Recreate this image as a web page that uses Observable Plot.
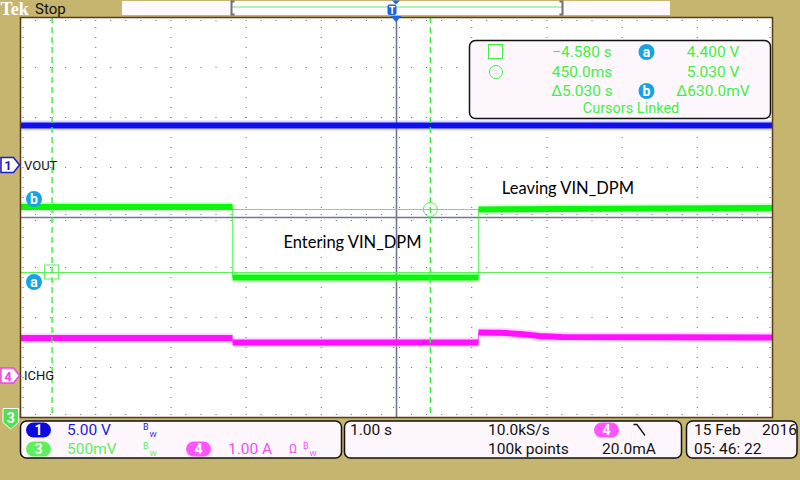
<!DOCTYPE html>
<html><head><meta charset="utf-8">
<script src="https://cdn.jsdelivr.net/npm/d3@7"></script>
<script src="https://cdn.jsdelivr.net/npm/@observablehq/plot@0.6"></script>
<style>
html,body{margin:0;padding:0;background:#c6b56f;width:800px;height:480px;overflow:hidden;}
#wrap{position:relative;width:800px;height:480px;}
#wrap svg{position:absolute;left:0;top:0;}
</style></head><body><div id="wrap"></div>
<script>
// ---------------- data ----------------
// horizontal: 1.00 s/div, trigger at centre
const timeDomain = [-5, 5];
const divDomain = [-4, 4];

// channel settings: units per division, ground position in divisions
const ch1Scale = 5.00, ch1Offset = 1.04;
const ch3Scale = 0.50, ch3Offset = -9.90;
const ch4Scale = 1.00, ch4Offset = -3.17;

// CH1 VOUT (V)
const voutT = [-5, 5];
const voutV = [4.0, 4.0];
// CH3 input voltage (V)
const vinT = [-5, -2.18, -2.18, 1.09, 1.09, 5];
const vinV = [5.055, 5.055, 4.35, 4.35, 5.03, 5.045];
// CH4 ICHG (A)
const ichgT = [-5, -2.18, -2.18, 1.09, 1.09, 1.38, 1.65, 1.9, 2.2, 5];
const ichgA = [0.76, 0.76, 0.67, 0.67, 0.87, 0.865, 0.84, 0.80, 0.78, 0.77];

// cursors (time in s, level in V on CH3)
const cursorT = [-4.58, 0.45];
const cursorV = [4.40, 5.03];

// annotations
const noteText = ["Entering VIN_DPM", "Leaving VIN_DPM"];
const noteT = [-0.585, 2.28];
const noteDiv = [-0.5, 0.58];

// readout texts
const readTime = ["\u22124.580 s", "450.0ms", "\u03945.030 s"];
const readVolt = ["4.400 V", "5.030 V", "\u0394630.0mV"];
const readFoot = "Cursors Linked";
const chanLabels = ["VOUT", "ICHG"];
const ch1Text = "5.00 V", ch3Text = "500mV", ch4Text = "1.00 A";
const timebaseText = "1.00 s", rateText = "10.0kS/s", pointsText = "100k points", trigLevelText = "20.0mA";
const dateText = "15 Feb", yearText = "2016", clockText = "05: 46: 22";

// ---------------- build ----------------
const C1 = "#1010ee", C1L = "#7c7cff";
const C3 = "#0cf50c", C3L = "#7cff7c";
const C4 = "#ff10ff", C4L = "#ff80ff";
const GRID = "#6f7693";

function toRows(ts, vs, scale, offset) {
  let seg = 0;
  return ts.map((t, i) => {
    if (i > 0 && t === ts[i - 1]) seg++;
    return {t, d: vs[i] / scale + offset, seg};
  });
}
const vout = toRows(voutT, voutV, ch1Scale, ch1Offset);
const vin = toRows(vinT, vinV, ch3Scale, ch3Offset);
const ichg = toRows(ichgT, ichgA, ch4Scale, ch4Offset);

const minorT = d3.range(0, 51).map(k => -5 + k * 0.2);
const minorD = d3.range(0, 41).map(k => -4 + k * 0.2);
const gridV = [], gridH = [];
for (let i = -4; i <= 4; i++) if (i !== 0) minorD.slice(1, -1).forEach(d => gridV.push({t: i, d}));
for (let j = -3; j <= 3; j++) if (j !== 0) minorT.slice(1, -1).forEach(t => gridH.push({t, d: j}));
const edgeTop = minorT.slice(1, -1).map(t => ({t, d: 4}));
const edgeBot = minorT.slice(1, -1).map(t => ({t, d: -4}));
const edgeL = minorD.slice(1, -1).map(d => ({t: -5, d}));
const edgeR = minorD.slice(1, -1).map(d => ({t: 5, d}));
const cenH = minorT.slice(1, -1).map(t => ({t, d: 0}));
const cenV = minorD.slice(1, -1).map(d => ({t: 0, d}));

const cursorDiv = cursorV.map(v => v / ch3Scale + ch3Offset);
const notes = noteText.map((s, i) => ({s, t: noteT[i], d: noteDiv[i]}));

function trace(rows, core, light, w) {
  return [
    Plot.line(rows, {x: "t", y: "d", stroke: core, strokeWidth: 1.2, strokeOpacity: 0.6, clip: true}),
    Plot.line(rows, {x: "t", y: "d", z: "seg", stroke: light, strokeWidth: w + 4, strokeOpacity: 0.3, strokeLinecap: "butt", clip: true}),
    Plot.line(rows, {x: "t", y: "d", z: "seg", stroke: core, strokeWidth: w, strokeLinecap: "butt", clip: true})
  ];
}
const dotOpts = (extra) => Object.assign({x: "t", y: "d", r: 0.65, symbol: "square", fill: GRID, stroke: "none"}, extra);

const plot = Plot.plot({
  width: 800, height: 480,
  marginLeft: 20, marginRight: 28, marginTop: 17, marginBottom: 63,
  x: {domain: timeDomain, axis: null},
  y: {domain: divDomain, axis: null},
  style: {background: "transparent", overflow: "visible"},
  marks: [
    Plot.frame({fill: "#ffffff", stroke: "none"}),
    Plot.dot(gridV, dotOpts({})),
    Plot.dot(gridH, dotOpts({})),
    Plot.dot(edgeTop, dotOpts({dy: 3})),
    Plot.dot(edgeBot, dotOpts({dy: -3})),
    Plot.dot(edgeL, dotOpts({dx: 2.5})),
    Plot.dot(edgeR, dotOpts({dx: -2.5})),
    Plot.dot(cenH, dotOpts({dy: -3})),
    Plot.dot(cenH, dotOpts({dy: 3})),
    Plot.dot(cenV, dotOpts({dx: -3})),
    Plot.dot(cenV, dotOpts({dx: 3})),
    Plot.ruleX([0], {stroke: GRID, strokeWidth: 1.6}),
    Plot.ruleY([0], {stroke: GRID, strokeWidth: 1.6}),
    Plot.ruleY(cursorDiv, {stroke: "#5cf05c", strokeWidth: 1}),
    ...trace(vout, C1, C1L, 6),
    ...trace(ichg, C4, C4L, 6),
    ...trace(vin, C3, C3L, 6),
    Plot.ruleX(cursorT, {stroke: "#3cee3c", strokeWidth: 1.4, strokeDasharray: "6,4"}),
    Plot.dot([{t: cursorT[1], d: cursorDiv[1]}], {x: "t", y: "d", symbol: "circle", r: 7, stroke: "#5cf05c", fill: "none", strokeWidth: 1}),
    Plot.text(notes, {x: "t", y: "d", text: "s", fill: "#000", fontSize: 16.5, fontFamily: "Lato, 'Open Sans', sans-serif", textAnchor: "middle"}),
    Plot.frame({stroke: "#5a3b18", strokeWidth: 1.5})
  ]
});
document.getElementById("wrap").appendChild(plot);

// ---------------- instrument chrome ----------------
const svg = d3.select(plot);
const xs = plot.scale("x"), ys = plot.scale("y");
const FONT = "Roboto, 'DejaVu Sans', sans-serif";
function txt(g, x, y, s, o = {}) {
  return g.append("text").attr("x", x).attr("y", y).text(s)
    .attr("font-family", o.ff || FONT).attr("font-size", o.fs || 15)
    .attr("font-weight", o.fw || 400).attr("fill", o.fill || "#111")
    .attr("text-anchor", o.anchor || "start").attr("dominant-baseline", "central");
}
const g = svg.append("g");

// cursor "a" square marker, placed through the plot scales
const sqX = xs.apply(cursorT[0]), sqY = ys.apply(cursorDiv[0]);
g.append("rect").attr("x", sqX - 7).attr("y", sqY - 7).attr("width", 14).attr("height", 14)
  .attr("fill", "none").attr("stroke", "#5cf05c").attr("stroke-width", 1);

// top bar
txt(g, 0.5, 8.5, "Tek", {ff: "'Liberation Serif', serif", fs: 18, fw: 700, fill: "#ffffff"});
txt(g, 35, 9, "Stop", {fs: 15, fill: "#111"});
g.append("rect").attr("x", 122).attr("y", 1).attr("width", 548).attr("height", 14).attr("fill", "#fdf9fd");
g.append("line").attr("x1", 232).attr("x2", 562).attr("y1", 7).attr("y2", 7).attr("stroke", "#66ee66").attr("stroke-width", 1.2);
g.append("path").attr("d", "M234.5,1.5 H231.5 V14.5 H234.5").attr("stroke", "#6f7070").attr("stroke-width", 2).attr("fill", "none");
g.append("path").attr("d", "M559.5,1.5 H562.5 V14.5 H559.5").attr("stroke", "#6f7070").attr("stroke-width", 2).attr("fill", "none");
const trigX = xs.apply(0);
g.append("path").attr("d", `M${trigX - 4},0.5 H${trigX + 4} L${trigX},4.5 Z`).attr("fill", "#1a66dd");
g.append("rect").attr("x", trigX - 8.5).attr("y", 4.5).attr("width", 9).attr("height", 10.5).attr("rx", 2).attr("fill", "#1a66dd");
txt(g, trigX - 4, 10.2, "T", {fs: 10, fw: 700, fill: "#fff", anchor: "middle"});
g.append("path").attr("d", `M${trigX - 5.5},16 H${trigX + 5.5} L${trigX},22 Z`).attr("fill", "#1a66dd");

// channel ground markers
function chMarker(yc, n, col) {
  g.append("path").attr("d", `M1,${yc - 7.5} H13.5 L19.5,${yc} L13.5,${yc + 7.5} H1 Z`)
    .attr("fill", "#fff").attr("stroke", col).attr("stroke-width", 1.5);
  txt(g, 8, yc + 0.5, n, {fs: 13, fw: 700, fill: col, anchor: "middle"});
}
const y1 = ys.apply(ch1Offset), y4 = ys.apply(ch4Offset);
chMarker(y1, "1", "#1a1ad8");
txt(g, 24, y1, chanLabels[0], {fs: 13, fill: "#111"});
chMarker(y4, "4", "#f040f0");
txt(g, 24, y4, chanLabels[1], {fs: 13, fill: "#111"});
// CH3 off-screen marker (below)
g.append("path").attr("d", "M3,408.5 H18.5 V422.5 L10.75,429 L3,422.5 Z").attr("fill", "#50e050").attr("stroke", "#fff").attr("stroke-width", 1);
txt(g, 10.75, 417.5, "3", {fs: 14, fw: 700, fill: "#fff", anchor: "middle"});

// cursor level badges
function badge(x, y, s) {
  g.append("circle").attr("cx", x).attr("cy", y).attr("r", 8).attr("fill", "#17a2e6");
  txt(g, x, y - 0.5, s, {fs: 14, fw: 700, fill: "#fff", anchor: "middle"});
}
badge(34, ys.apply(cursorDiv[1]) - 10, "b");
badge(34, ys.apply(cursorDiv[0]) + 10, "a");

// cursor readout box
const RG = "#44ee44";
g.append("rect").attr("x", 469.5).attr("y", 40.5).attr("width", 301).attr("height", 78).attr("rx", 6)
  .attr("fill", "#fdf7fd").attr("stroke", "#111").attr("stroke-width", 1.5);
g.append("rect").attr("x", 488.5).attr("y", 44.5).attr("width", 14).attr("height", 14).attr("fill", "none").attr("stroke", RG).attr("stroke-width", 1);
g.append("circle").attr("cx", 496).attr("cy", 72).attr("r", 6.5).attr("fill", "none").attr("stroke", RG).attr("stroke-width", 1);
const rowsY = [52, 72, 91];
readTime.forEach((s, i) => txt(g, 582, rowsY[i], s, {fs: 15.5, fill: RG, anchor: "middle"}));
readVolt.forEach((s, i) => txt(g, 713, rowsY[i], s, {fs: 15.5, fill: RG, anchor: "middle"}));
badge(646.5, 52, "a");
badge(646.5, 91, "b");
txt(g, 631, 108, readFoot, {fs: 14.5, fill: RG, anchor: "middle"});

// bottom status panels
function panel(x0, x1) {
  g.append("rect").attr("x", x0).attr("y", 421).attr("width", x1 - x0).attr("height", 37).attr("rx", 6)
    .attr("fill", "#fdf7fd").attr("stroke", "#111").attr("stroke-width", 1.5);
}
panel(20.5, 341.5); panel(344.5, 681.5); panel(686.5, 797);
function pill(x, y, s, col) {
  g.append("rect").attr("x", x).attr("y", y - 7.5).attr("width", 25).attr("height", 15).attr("rx", 7.5).attr("fill", col);
  txt(g, x + 12.5, y, s, {fs: 14, fw: 700, fill: "#fff", anchor: "middle"});
}
function bw(x, y, col) {
  txt(g, x, y - 3.5, "B", {fs: 9, fill: col});
  txt(g, x + 6.5, y + 4, "W", {fs: 8, fill: col});
}
const rA = 430, rB = 449;
pill(26, rA, "1", "#0a0ae0");
txt(g, 67, rA, ch1Text, {fs: 15.5, fill: "#1a1ae0"});
bw(143, rA, "#1a1ae0");
pill(26, rB, "3", "#5cf05c");
txt(g, 67, rB, ch3Text, {fs: 15.5, fill: "#5cee5c"});
bw(143, rB, "#5cee5c");
pill(186, rB, "4", "#ff55ff");
txt(g, 228, rB, ch4Text, {fs: 15.5, fill: "#f050f0"});
txt(g, 289, rB, "\u03a9", {fs: 12, fill: "#f050f0"});
bw(303, rB, "#f050f0");
txt(g, 350, rA, timebaseText, {fs: 15.5});
txt(g, 488, rA, rateText, {fs: 15.5});
txt(g, 488, rB, pointsText, {fs: 15.5});
pill(594, rA, "4", "#ff55ff");
g.append("path").attr("d", "M633.5,424.5 H637 L645,435.5").attr("fill", "none").attr("stroke", "#111").attr("stroke-width", 1.3);
txt(g, 602, rB, trigLevelText, {fs: 15.5});
txt(g, 694, rA, dateText, {fs: 15.5});
txt(g, 762, rA, yearText, {fs: 15.5});
txt(g, 694, rB, clockText, {fs: 15.5});
</script></body></html>
